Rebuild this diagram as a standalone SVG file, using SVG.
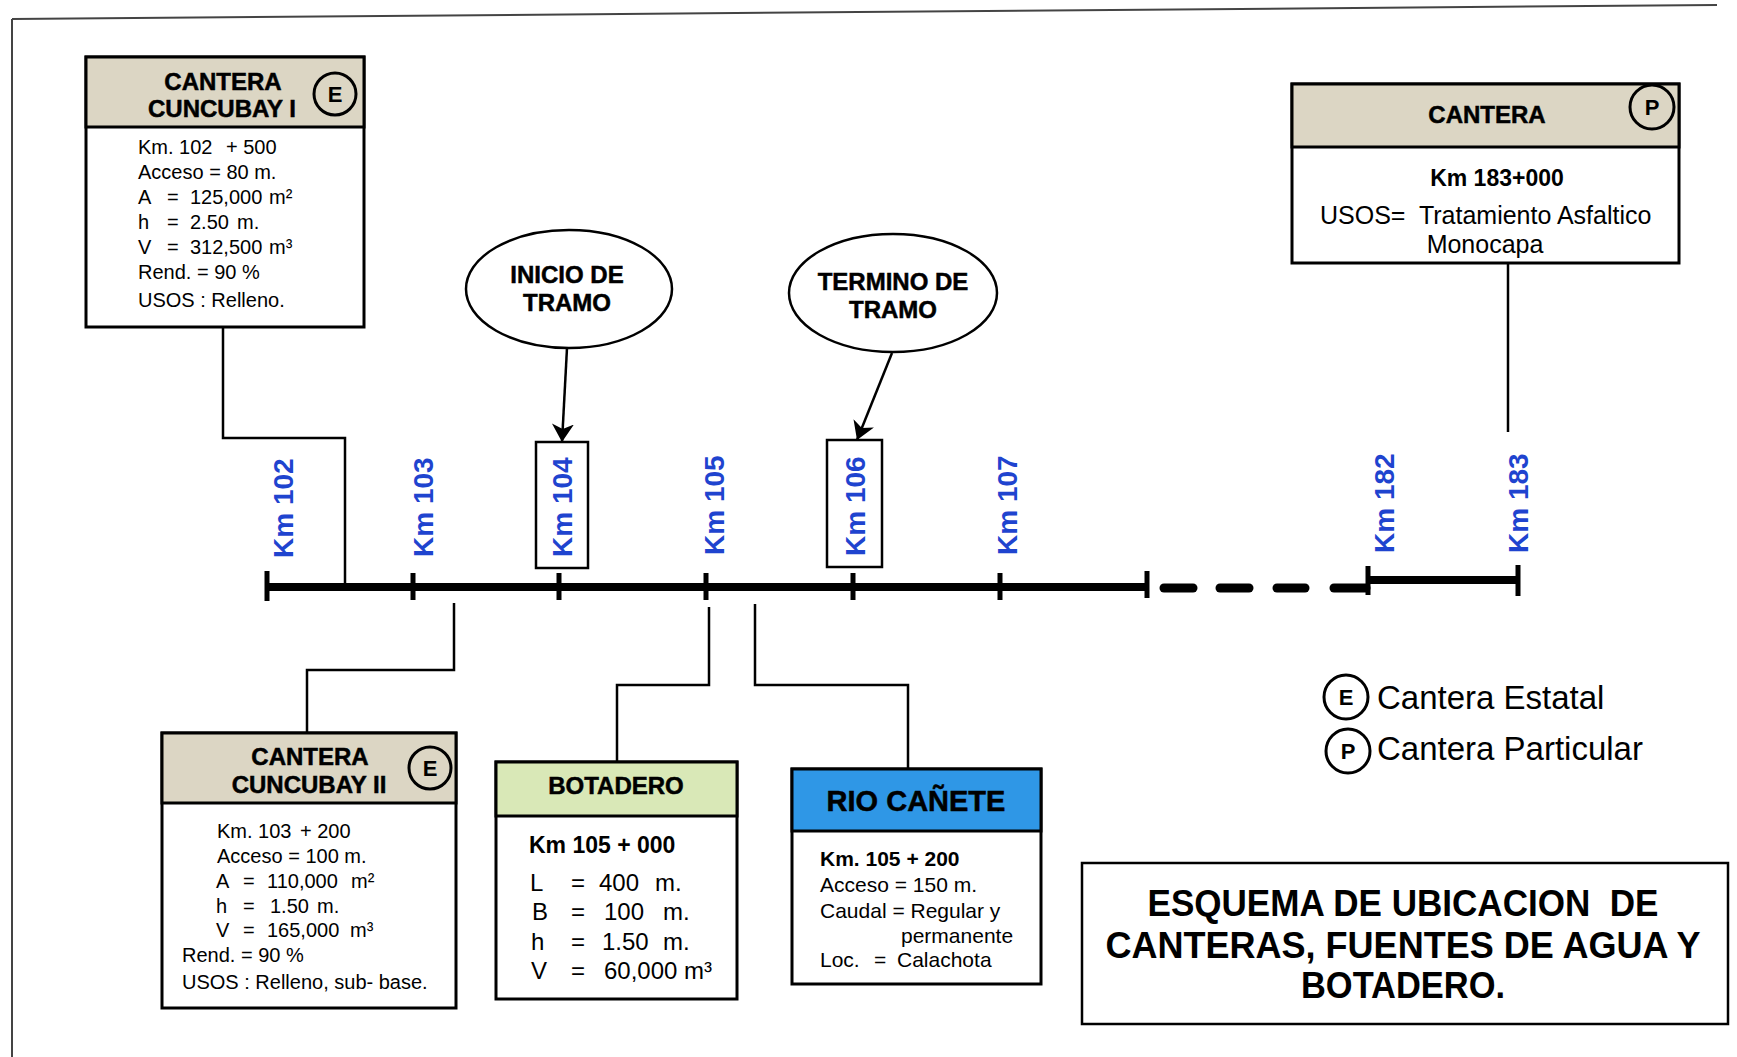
<svg xmlns="http://www.w3.org/2000/svg" width="1737" height="1057" viewBox="0 0 1737 1057">
<style>
text{font-family:"Liberation Sans",Arial,sans-serif;fill:#000}
.box{fill:#fff;stroke:#000;stroke-width:3}
.hdr{stroke:#000;stroke-width:3}
.beige{fill:#dcd6c4}
.green{fill:#d9e8b7}
.blue{fill:#2f97e6}
.ttl{font-weight:bold;font-size:24px;text-anchor:middle;stroke:#000;stroke-width:0.5}
.body{font-size:20px}
.km{font-weight:bold;font-size:28px;fill:#1f44cf}
.conn{fill:none;stroke:#000;stroke-width:2.5}
.circ{fill:none;stroke:#000;stroke-width:3}
.cl{font-weight:bold;font-size:22px;text-anchor:middle}
.axis{stroke:#000;stroke-width:8;fill:none}
.tick{stroke:#000;stroke-width:5}
.dash{stroke:#000;stroke-width:9;stroke-linecap:round}
.kmbox{fill:none;stroke:#000;stroke-width:2.5}
.ell{fill:#fff;stroke:#000;stroke-width:2.5}
</style>
<defs>
<marker id="arr" viewBox="0 0 18 22" refX="18" refY="11" markerWidth="18" markerHeight="22" markerUnits="userSpaceOnUse" orient="auto">
<path d="M0,0 L18,11 L0,22 L5,11 z" fill="#000"/>
</marker>
</defs>
<rect width="1737" height="1057" fill="#fff"/>
<g id="frame">
<line x1="12" y1="19" x2="1717" y2="5" stroke="#444" stroke-width="2"/>
<line x1="12" y1="19" x2="12" y2="1057" stroke="#444" stroke-width="2"/>
</g>

<g id="connectors">
<polyline class="conn" points="223,327 223,438 345,438 345,587"/>
<polyline class="conn" points="1508,263 1508,432"/>
<polyline class="conn" points="454,603 454,670 307,670 307,733"/>
<polyline class="conn" points="709,607 709,685 617,685 617,762"/>
<polyline class="conn" points="755,604 755,685 908,685 908,769"/>
<line class="conn" x1="567" y1="348" x2="562" y2="442" marker-end="url(#arr)"/>
<line class="conn" x1="892" y1="353" x2="857" y2="440" marker-end="url(#arr)"/>
</g>

<g id="axis">
<line class="axis" x1="267" y1="587" x2="1147" y2="587"/>
<line class="tick" x1="267" y1="571" x2="267" y2="601"/>
<line class="tick" x1="413" y1="573" x2="413" y2="600"/>
<line class="tick" x1="559" y1="573" x2="559" y2="600"/>
<line class="tick" x1="706" y1="573" x2="706" y2="600"/>
<line class="tick" x1="853" y1="573" x2="853" y2="600"/>
<line class="tick" x1="1000" y1="573" x2="1000" y2="600"/>
<line class="tick" x1="1147" y1="571" x2="1147" y2="598"/>
<line class="dash" x1="1164" y1="588" x2="1193" y2="588"/>
<line class="dash" x1="1220" y1="588" x2="1249" y2="588"/>
<line class="dash" x1="1277" y1="588" x2="1305" y2="588"/>
<line class="dash" x1="1334" y1="588" x2="1366" y2="588"/>
<line class="tick" x1="1368" y1="566" x2="1368" y2="595"/>
<line class="axis" x1="1368" y1="580" x2="1518" y2="580"/>
<line class="tick" x1="1518" y1="565" x2="1518" y2="596"/>
</g>

<g id="km-labels">
<text class="km" transform="translate(293,558) rotate(-90)">Km 102</text>
<text class="km" transform="translate(433,557) rotate(-90)">Km 103</text>
<text class="km" transform="translate(724,555) rotate(-90)">Km 105</text>
<text class="km" transform="translate(1017,555) rotate(-90)">Km 107</text>
<text class="km" transform="translate(1394,553) rotate(-90)">Km 182</text>
<text class="km" transform="translate(1528,553) rotate(-90)">Km 183</text>
</g>

<g id="km104">
<rect class="kmbox" x="536" y="442" width="52" height="126"/>
<text class="km" transform="translate(572,557) rotate(-90)">Km 104</text>
</g>
<g id="km106">
<rect class="kmbox" x="827" y="440" width="55" height="127"/>
<text class="km" transform="translate(865,556) rotate(-90)">Km 106</text>
</g>

<g id="inicio-tramo">
<ellipse class="ell" cx="569" cy="289" rx="103" ry="59"/>
<text class="ttl" x="567" y="283">INICIO DE</text>
<text class="ttl" x="567" y="311">TRAMO</text>
</g>
<g id="termino-tramo">
<ellipse class="ell" cx="893" cy="293" rx="104" ry="59"/>
<text class="ttl" x="893" y="290">TERMINO DE</text>
<text class="ttl" x="893" y="318">TRAMO</text>
</g>

<g id="cantera-cuncubay-1">
<rect class="box" x="86" y="57" width="278" height="270"/>
<rect class="hdr beige" x="86" y="57" width="278" height="70"/>
<text class="ttl" x="223" y="90">CANTERA</text>
<text class="ttl" x="222" y="117">CUNCUBAY I</text>
<circle class="circ" cx="335" cy="94" r="21"/>
<text class="cl" x="335" y="102">E</text>
<text class="body"><tspan x="138" y="154">Km. 102</tspan><tspan x="226" y="154">+ 500</tspan></text>
<text class="body" x="138" y="179">Acceso = 80 m.</text>
<text class="body"><tspan x="138" y="204">A</tspan><tspan x="167" y="204">=</tspan><tspan x="190" y="204">125,000</tspan><tspan x="269" y="204">m²</tspan></text>
<text class="body"><tspan x="138" y="229">h</tspan><tspan x="167" y="229">=</tspan><tspan x="190" y="229">2.50</tspan><tspan x="237" y="229">m.</tspan></text>
<text class="body"><tspan x="138" y="254">V</tspan><tspan x="167" y="254">=</tspan><tspan x="190" y="254">312,500</tspan><tspan x="269" y="254">m³</tspan></text>
<text class="body" x="138" y="279">Rend. = 90 %</text>
<text class="body" x="138" y="307">USOS : Relleno.</text>
</g>

<g id="cantera-p">
<rect class="box" x="1292" y="84" width="387" height="179"/>
<rect class="hdr beige" x="1292" y="84" width="387" height="63"/>
<text class="ttl" x="1487" y="123">CANTERA</text>
<circle class="circ" cx="1652" cy="107" r="22"/>
<text class="cl" x="1652" y="115">P</text>
<text x="1497" y="186" font-weight="bold" font-size="23" text-anchor="middle">Km 183+000</text>
<text x="1320" y="224" font-size="25" xml:space="preserve">USOS=  Tratamiento Asfaltico</text>
<text x="1485" y="253" font-size="25" text-anchor="middle">Monocapa</text>
</g>

<g id="cantera-cuncubay-2">
<rect class="box" x="162" y="733" width="294" height="275"/>
<rect class="hdr beige" x="162" y="733" width="294" height="70"/>
<text class="ttl" x="310" y="765">CANTERA</text>
<text class="ttl" x="309" y="793">CUNCUBAY II</text>
<circle class="circ" cx="430" cy="768" r="21"/>
<text class="cl" x="430" y="776">E</text>
<text class="body"><tspan x="217" y="838">Km. 103</tspan><tspan x="300" y="838">+ 200</tspan></text>
<text class="body" x="217" y="863">Acceso = 100 m.</text>
<text class="body"><tspan x="216" y="888">A</tspan><tspan x="243" y="888">=</tspan><tspan x="267" y="888">110,000</tspan><tspan x="351" y="888">m²</tspan></text>
<text class="body"><tspan x="216" y="913">h</tspan><tspan x="243" y="913">=</tspan><tspan x="270" y="913">1.50</tspan><tspan x="317" y="913">m.</tspan></text>
<text class="body"><tspan x="216" y="937">V</tspan><tspan x="243" y="937">=</tspan><tspan x="267" y="937">165,000</tspan><tspan x="350" y="937">m³</tspan></text>
<text class="body" x="182" y="962">Rend. = 90 %</text>
<text class="body" x="182" y="989">USOS : Relleno, sub- base.</text>
</g>

<g id="botadero">
<rect class="box" x="496" y="762" width="241" height="237"/>
<rect class="hdr green" x="496" y="762" width="241" height="54"/>
<text class="ttl" x="616" y="794">BOTADERO</text>
<text x="529" y="853" font-weight="bold" font-size="23">Km 105 + 000</text>
<text font-size="24"><tspan x="530" y="891">L</tspan><tspan x="571" y="891">=</tspan><tspan x="599" y="891">400</tspan><tspan x="655" y="891">m.</tspan></text>
<text font-size="24"><tspan x="532" y="920">B</tspan><tspan x="571" y="920">=</tspan><tspan x="604" y="920">100</tspan><tspan x="663" y="920">m.</tspan></text>
<text font-size="24"><tspan x="531" y="950">h</tspan><tspan x="571" y="950">=</tspan><tspan x="602" y="950">1.50</tspan><tspan x="663" y="950">m.</tspan></text>
<text font-size="24"><tspan x="531" y="979">V</tspan><tspan x="571" y="979">=</tspan><tspan x="604" y="979">60,000 m³</tspan></text>
</g>

<g id="rio-canete">
<rect class="box" x="792" y="769" width="249" height="215"/>
<rect class="hdr blue" x="792" y="769" width="249" height="62"/>
<text x="916" y="811" font-weight="bold" font-size="29" text-anchor="middle" stroke="#000" stroke-width="0.5">RIO CAÑETE</text>
<text x="820" y="866" font-weight="bold" font-size="21">Km. 105 + 200</text>
<text x="820" y="892" font-size="21">Acceso = 150 m.</text>
<text x="820" y="918" font-size="21">Caudal = Regular y</text>
<text x="901" y="943" font-size="21">permanente</text>
<text font-size="21"><tspan x="820" y="967">Loc.</tspan><tspan x="874" y="967">=</tspan><tspan x="897" y="967">Calachota</tspan></text>
</g>

<g id="legend">
<circle class="circ" cx="1346" cy="697" r="22"/>
<text class="cl" x="1346" y="705">E</text>
<text x="1377" y="709" font-size="33">Cantera Estatal</text>
<circle class="circ" cx="1348" cy="751" r="22"/>
<text class="cl" x="1348" y="759">P</text>
<text x="1377" y="760" font-size="33">Cantera Particular</text>
</g>

<g id="title">
<rect x="1082" y="863" width="646" height="161" fill="#fff" stroke="#000" stroke-width="2.5"/>
<text x="1403" y="916" font-weight="bold" font-size="37" text-anchor="middle" textLength="511" lengthAdjust="spacingAndGlyphs" xml:space="preserve">ESQUEMA DE UBICACION  DE</text>
<text x="1403" y="958" font-weight="bold" font-size="37" text-anchor="middle" textLength="595" lengthAdjust="spacingAndGlyphs">CANTERAS, FUENTES DE AGUA Y</text>
<text x="1403" y="998" font-weight="bold" font-size="37" text-anchor="middle" textLength="204" lengthAdjust="spacingAndGlyphs">BOTADERO.</text>
</g>
</svg>
